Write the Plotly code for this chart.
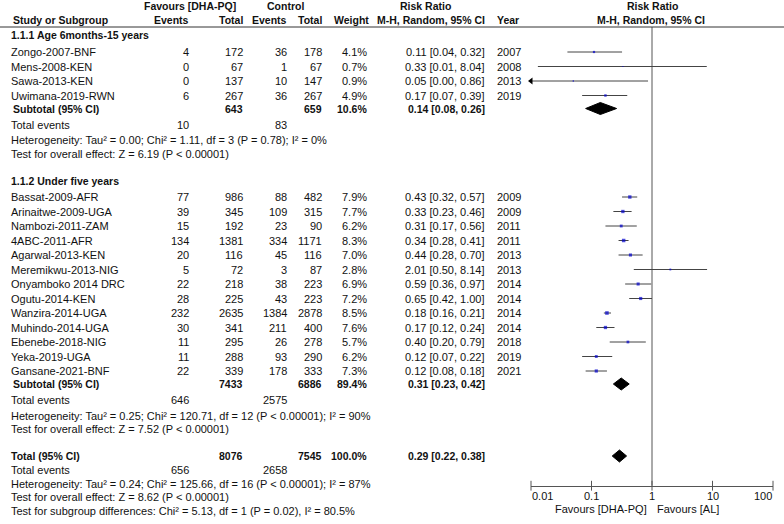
import math
import plotly.graph_objects as go

# ---- data ----
names1 = ["Zongo-2007-BNF", "Mens-2008-KEN", "Sawa-2013-KEN", "Uwimana-2019-RWN"]
ev_dha1 = [4, 0, 0, 6]
n_dha1 = [172, 67, 137, 267]
ev_ctl1 = [36, 1, 10, 36]
n_ctl1 = [178, 67, 147, 267]
w1 = [4.1, 0.7, 0.9, 4.9]
rr1 = [0.11, 0.33, 0.05, 0.17]
lo1 = [0.04, 0.013, 0.003, 0.07]
hi1 = [0.32, 8.04, 0.86, 0.39]
yr1 = [2007, 2008, 2013, 2019]

names2 = ["Bassat-2009-AFR", "Arinaitwe-2009-UGA", "Nambozi-2011-ZAM", "4ABC-2011-AFR",
          "Agarwal-2013-KEN", "Meremikwu-2013-NIG", "Onyamboko 2014 DRC", "Ogutu-2014-KEN",
          "Wanzira-2014-UGA", "Muhindo-2014-UGA", "Ebenebe-2018-NIG", "Yeka-2019-UGA",
          "Gansane-2021-BNF"]
ev_dha2 = [77, 39, 15, 134, 20, 5, 22, 28, 232, 30, 11, 11, 22]
n_dha2 = [986, 345, 192, 1381, 116, 72, 218, 225, 2635, 341, 295, 288, 339]
ev_ctl2 = [88, 109, 23, 334, 45, 3, 38, 43, 1384, 211, 26, 93, 178]
n_ctl2 = [482, 315, 90, 1171, 116, 87, 223, 223, 2878, 400, 278, 290, 333]
w2 = [7.9, 7.7, 6.2, 8.3, 7.0, 2.8, 6.9, 7.2, 8.5, 7.6, 5.7, 6.2, 7.3]
rr2 = [0.43, 0.33, 0.31, 0.34, 0.44, 2.01, 0.59, 0.65, 0.18, 0.17, 0.40, 0.12, 0.12]
lo2 = [0.32, 0.23, 0.17, 0.28, 0.28, 0.50, 0.36, 0.42, 0.16, 0.12, 0.20, 0.07, 0.08]
hi2 = [0.57, 0.46, 0.56, 0.41, 0.70, 8.14, 0.97, 1.00, 0.21, 0.24, 0.79, 0.22, 0.18]
yr2 = [2009, 2009, 2011, 2011, 2013, 2013, 2014, 2014, 2014, 2014, 2018, 2019, 2021]

# subtotals / overall
sub_n_dha = [643, 7433, 8076]
sub_n_ctl = [659, 6886, 7545]
sub_w = [10.6, 89.4, 100.0]
sub_rr = [0.14, 0.31, 0.29]
sub_lo = [0.08, 0.23, 0.22]
sub_hi = [0.26, 0.42, 0.38]
sub_ev_dha = [10, 646, 656]
sub_ev_ctl = [83, 2575, 2658]
het_txt = ["Heterogeneity: Tau² = 0.00; Chi² = 1.11, df = 3 (P = 0.78); I² = 0%",
           "Heterogeneity: Tau² = 0.25; Chi² = 120.71, df = 12 (P < 0.00001); I² = 90%",
           "Heterogeneity: Tau² = 0.24; Chi² = 125.66, df = 16 (P < 0.00001); I² = 87%"]
z_txt = ["Test for overall effect: Z = 6.19 (P < 0.00001)",
         "Test for overall effect: Z = 7.52 (P < 0.00001)",
         "Test for overall effect: Z = 8.62 (P < 0.00001)"]
subgrp_txt = "Test for subgroup differences: Chi² = 5.13, df = 1 (P = 0.02), I² = 80.5%"
groups = ["1.1.1 Age 6months-15 years", "1.1.2 Under five years"]
ticks = [0.01, 0.1, 1, 10, 100]
tick_labels = ["0.01", "0.1", "1", "10", "100"]

W, H = 784, 524
FONT = "Arial, Liberation Sans, sans-serif"
FS = 11      # regular text
FSB = 10.5   # bold text
TXT = "#111111"
LINE = "#444444"
ROW = 14.5
AXIS_Y = 485.7

fig = go.Figure()
ann = []


def txt(xp, y, s, anchor="left", bold=False):
    ann.append(dict(x=xp / W, xref="paper", y=y, yref="y", text="<b>%s</b>" % s if bold else s,
                    xanchor=anchor, yanchor="middle", showarrow=False,
                    font=dict(family=FONT, size=FSB if bold else FS, color=TXT), borderpad=0))


def ci(r, l, h):
    return "%.2f [%.2f, %.2f]" % (r, l, h)


# header
txt(190, 6, "Favours [DHA-PQ]", "center", True)
txt(285, 6, "Control", "center", True)
txt(425, 6, "Risk Ratio", "center", True)
txt(652, 6, "Risk Ratio", "center", True)
txt(12, 20, "Study or Subgroup", "left", True)
txt(190, 20, "Events", "right", True)
txt(244, 20, "Total", "right", True)
txt(288, 20, "Events", "right", True)
txt(323, 20, "Total", "right", True)
txt(370, 20, "Weight", "right", True)
txt(431, 20, "M-H, Random, 95% CI", "center", True)
txt(496, 20, "Year", "left", True)
txt(651, 20, "M-H, Random, 95% CI", "center", True)

study_sets = [(names1, ev_dha1, n_dha1, ev_ctl1, n_ctl1, w1, rr1, lo1, hi1, yr1),
              (names2, ev_dha2, n_dha2, ev_ctl2, n_ctl2, w2, rr2, lo2, hi2, yr2)]

ci_x, ci_y, sq_x, sq_y, sq_s = [], [], [], [], []
arrow_x, arrow_y = [], []
diamonds = []

y = 35
for g, (nm, ed, nd, ec, nc, w, rr, lo, hi, yr) in enumerate(study_sets):
    txt(10, y, groups[g], "left", True)
    y += 17 if g == 0 else 16.5
    for i in range(len(nm)):
        txt(10, y, nm[i])
        txt(190, y, str(ed[i]), "right")
        txt(244, y, str(nd[i]), "right")
        txt(288, y, str(ec[i]), "right")
        txt(323, y, str(nc[i]), "right")
        txt(368, y, "%.1f%%" % w[i], "right")
        txt(486, y, ci(rr[i], lo[i], hi[i]), "right")
        txt(496, y, str(yr[i]))
        ci_x += [max(lo[i], ticks[0]), min(hi[i], ticks[-1]), None]
        ci_y += [y, y, None]
        if lo[i] < ticks[0]:
            arrow_x.append(ticks[0])
            arrow_y.append(y)
        sq_x.append(rr[i])
        sq_y.append(y)
        sq_s.append(1 + w[i] * 0.3)
        y += ROW
    y += 13 - ROW
    txt(12, y, "Subtotal (95% CI)", "left", True)
    txt(244, y, str(sub_n_dha[g]), "right", True)
    txt(323, y, str(sub_n_ctl[g]), "right", True)
    txt(368, y, "%.1f%%" % sub_w[g], "right", True)
    txt(486, y, ci(sub_rr[g], sub_lo[g], sub_hi[g]), "right", True)
    diamonds.append((g, y))
    y += 16
    txt(10, y, "Total events")
    txt(190, y, str(sub_ev_dha[g]), "right")
    txt(288, y, str(sub_ev_ctl[g]), "right")
    y += 15.5
    txt(10, y, het_txt[g])
    y += 13.5
    txt(10, y, z_txt[g])
    y += 27

# overall
txt(10, y, "Total (95% CI)", "left", True)
txt(244, y, str(sub_n_dha[2]), "right", True)
txt(323, y, str(sub_n_ctl[2]), "right", True)
txt(368, y, "%.1f%%" % sub_w[2], "right", True)
txt(486, y, ci(sub_rr[2], sub_lo[2], sub_hi[2]), "right", True)
diamonds.append((2, y))
y += 14
txt(10, y, "Total events")
txt(190, y, str(sub_ev_dha[2]), "right")
txt(288, y, str(sub_ev_ctl[2]), "right")
y += 13.5
txt(10, y, het_txt[2])
y += 13.5
txt(10, y, z_txt[2])
y += 13.5
txt(10, y, subgrp_txt)

# tick labels of the log axis (annotations on a log axis take log10 positions)
for k, (t, lab) in enumerate(zip(ticks, tick_labels)):
    anchor = "left" if k == 0 else ("right" if k == len(ticks) - 1 else "center")
    ann.append(dict(x=math.log10(t), xref="x", y=496, yref="y", text=lab, xanchor=anchor,
                    yanchor="middle", showarrow=False, borderpad=0,
                    font=dict(family=FONT, size=FS, color=TXT)))

# bottom labels
ann.append(dict(x=0, xref="x", y=509, yref="y", text="Favours [DHA-PQ]", xanchor="right",
                xshift=-3, yanchor="middle", showarrow=False, font=dict(family=FONT, size=FS, color=TXT)))
ann.append(dict(x=0, xref="x", y=509, yref="y", text="Favours [AL]", xanchor="left",
                xshift=3, yanchor="middle", showarrow=False, font=dict(family=FONT, size=FS, color=TXT)))

# line of no effect
fig.add_trace(go.Scatter(x=[1, 1], y=[27, AXIS_Y], mode="lines", line=dict(color="#555555", width=1),
                         cliponaxis=False, hoverinfo="skip"))
# CIs
fig.add_trace(go.Scatter(x=ci_x, y=ci_y, mode="lines", line=dict(color=LINE, width=1),
                         cliponaxis=False, hoverinfo="skip"))
fig.add_trace(go.Scatter(x=arrow_x, y=arrow_y, mode="markers", cliponaxis=False,
                         marker=dict(symbol="triangle-left", size=6, color="black")))
fig.add_trace(go.Scatter(x=sq_x, y=sq_y, mode="markers", cliponaxis=False,
                         marker=dict(symbol="square", size=sq_s, color="#0000CC", line=dict(width=0))))
for g, yy in diamonds:
    fig.add_trace(go.Scatter(x=[sub_lo[g], sub_rr[g], sub_hi[g], sub_rr[g], sub_lo[g]],
                             y=[yy, yy - 6, yy, yy + 6, yy], mode="lines", fill="toself",
                             fillcolor="black", line=dict(color="black", width=1), cliponaxis=False))
# axis tick marks
fig.add_trace(go.Scatter(x=ticks, y=[AXIS_Y] * len(ticks), mode="markers", cliponaxis=False,
                         marker=dict(symbol="line-ns", size=7, line=dict(color="#555555", width=1))))

fig.add_shape(type="line", xref="paper", x0=0, x1=1, yref="y", y0=27, y1=27,
              line=dict(color="#333333", width=1))

fig.update_layout(
    width=W, height=H, margin=dict(l=0, r=0, t=0, b=0),
    paper_bgcolor="white", plot_bgcolor="white", showlegend=False,
    annotations=ann,
    xaxis=dict(type="log", range=[-2, 2], domain=[531 / W, 773 / W], anchor="free",
               position=1 - AXIS_Y / H, showgrid=False, zeroline=False, showline=True,
               linecolor="#555555", linewidth=1, ticks="", showticklabels=False,
               fixedrange=True),
    yaxis=dict(range=[H, 0], domain=[0, 1], visible=False, fixedrange=True),
)

fig.write_html("out.html", config={"displayModeBar": False},
               post_script="document.body.style.margin='0px';document.body.style.overflow='hidden';")
